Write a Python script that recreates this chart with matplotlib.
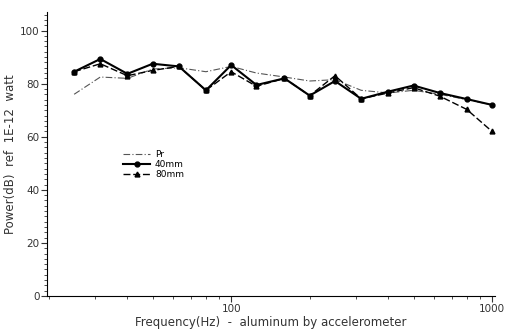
import numpy as np
import matplotlib
matplotlib.use("Agg")
import matplotlib.pyplot as plt
from matplotlib.ticker import FixedLocator, NullFormatter, MultipleLocator

freq = [25, 31.5, 40, 50, 63, 80, 100, 125, 160, 200, 250, 315, 400, 500, 630, 800, 1000]
pr = [76, 82.5, 82, 85.5, 86, 84.5, 86.5, 84, 82.5, 81, 81.5, 77.5, 76.5, 77.5, 76, 74, 72]
mm40 = [84.5, 89.3, 83.7, 87.5, 86.5, 77.5, 87, 79.5, 82, 75.5, 81, 74.3, 77, 79.3, 76.5, 74.2, 72]
mm80 = [84.5, 87.5, 83, 85, 86.5, 77.5, 84.5, 79, 82, 75.5, 83, 74.3, 76.5, 78.5, 75.3, 70.3, 62]

fig = plt.figure(figsize=(5.07, 3.33), dpi=100)
ax = fig.add_axes([0.093, 0.111, 0.883, 0.853])

ax.plot(freq, pr, color="#555555", lw=0.8, ls=(0, (6, 2, 1, 2)), label="Pr")
ax.plot(freq, mm40, color="black", lw=1.5, marker="o", ms=3.5, label="40mm")
ax.plot(freq, mm80, color="black", lw=1.0, ls=(0, (5, 2)), marker="^", ms=3.5, label="80mm")

ax.set_xscale("log")
ax.set_xlim(19.7, 1025)
ax.set_ylim(0, 107)

ax.xaxis.set_major_locator(FixedLocator([100, 1000]))
ax.xaxis.set_minor_locator(FixedLocator([20, 30, 40, 50, 60, 70, 80, 90,
                                         200, 300, 400, 500, 600, 700, 800, 900]))
ax.xaxis.set_minor_formatter(NullFormatter())
ax.set_xticklabels(["100", "1000"])
ax.yaxis.set_major_locator(MultipleLocator(20))
ax.yaxis.set_minor_locator(MultipleLocator(2))

for s in ["top", "right"]:
    ax.spines[s].set_visible(False)
ax.tick_params(axis="both", which="major", labelsize=7.5, length=4, pad=1.5,
               color="#333333", labelcolor="#333333")
ax.tick_params(axis="both", which="minor", length=2, color="#333333")

ax.set_xlabel("Frequency(Hz)  -  aluminum by accelerometer", fontsize=8.5, color="#333333", labelpad=2)
ax.set_ylabel("Power(dB)  ref  1E-12  watt", fontsize=8.5, color="#333333", labelpad=2)

ax.legend(loc="upper left", bbox_to_anchor=(0.16, 0.53), frameon=False, fontsize=6.5,
          handlelength=3, handletextpad=0.5, labelspacing=0.1, borderpad=0)

fig.savefig("out.png", dpi=100)
